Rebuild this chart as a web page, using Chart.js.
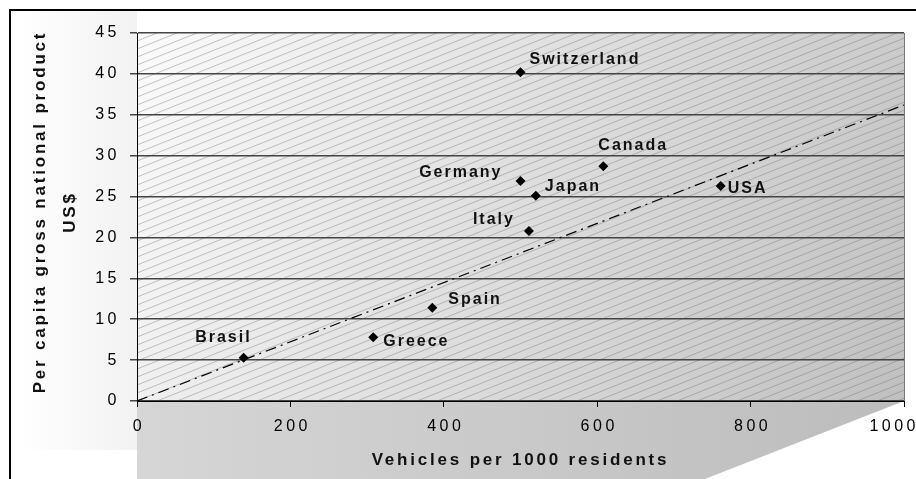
<!DOCTYPE html>
<html>
<head>
<meta charset="utf-8">
<script src="https://cdn.jsdelivr.net/npm/chart.js@4.4.1/dist/chart.umd.min.js"></script>
<style>
  body { margin: 0; background: #fff; }
  canvas { display: block; }
</style>
</head>
<body>
<canvas id="chart" width="916" height="479"></canvas>
<script>
// ==================== DATA ====================
const countries = ['Switzerland', 'Canada', 'Germany', 'Japan', 'Italy', 'USA', 'Spain', 'Greece', 'Brasil'];
const vehicles  = [500, 608, 500, 520, 511, 761, 385, 308, 139];
const gnp       = [40.2, 28.7, 26.9, 25.1, 20.8, 26.3, 11.4, 7.8, 5.3];
const trendX    = [0, 1000];
const trendY    = [0, 36.2];
const xTicks    = [0, 200, 400, 600, 800, 1000];
const yTicks    = [0, 5, 10, 15, 20, 25, 30, 35, 40, 45];

// label placement next to each point: [align, dx, dy] in px
const labelPos = [
    ['left', 9, -13], ['left', -5, -21], ['right', -18, -8], ['left', 9, -9], ['right', -14, -11],
    ['left', 7, 3], ['left', 16, -8], ['left', 10, 4], ['right', 8, -20]
];

const FONT = '"Liberation Sans", Arial, sans-serif';

// ==================== BACKGROUND / DECORATION ====================
const decoPlugin = {
    id: 'deco',
    beforeDraw(chart) {
        const ctx = chart.ctx;
        const a = chart.chartArea;
        ctx.save();
        ctx.fillStyle = '#fff';
        ctx.fillRect(0, 0, chart.width, chart.height);

        // left wall (very light)
        let g = ctx.createLinearGradient(20, 0, a.left, 0);
        g.addColorStop(0, '#ffffff');
        g.addColorStop(1, '#f2f2f2');
        ctx.fillStyle = g;
        ctx.fillRect(20, 10, a.left - 20, 440);

        // floor under the x axis
        g = ctx.createLinearGradient(a.left, 0, a.right, 0);
        g.addColorStop(0, '#d6d6d6');
        g.addColorStop(1, '#bcbcbc');
        ctx.fillStyle = g;
        ctx.beginPath();
        ctx.moveTo(a.left, a.bottom);
        ctx.lineTo(a.right, a.bottom);
        ctx.lineTo(705, chart.height);
        ctx.lineTo(a.left, chart.height);
        ctx.closePath();
        ctx.fill();

        // plot area gradient
        g = ctx.createLinearGradient(a.left, a.top, a.right, a.bottom);
        g.addColorStop(0, '#fbfbfb');
        g.addColorStop(1, '#c0c0c0');
        ctx.fillStyle = g;
        ctx.fillRect(a.left, a.top, a.right - a.left, a.bottom - a.top);

        // hatching
        ctx.beginPath();
        ctx.rect(a.left, a.top, a.right - a.left, a.bottom - a.top);
        ctx.clip();
        ctx.strokeStyle = 'rgba(110,110,110,0.5)';
        ctx.lineWidth = 0.8;
        const h = a.bottom - a.top;
        const run = h / 0.4;
        ctx.beginPath();
        for (let x = a.left - run; x < a.right + 20; x += 20) {
            ctx.moveTo(x, a.bottom);
            ctx.lineTo(x + run, a.top);
        }
        ctx.stroke();
        ctx.restore();

        // outer frame
        ctx.save();
        ctx.strokeStyle = '#000';
        ctx.lineWidth = 2;
        ctx.beginPath();
        ctx.moveTo(10, chart.height);
        ctx.lineTo(10, 10);
        ctx.lineTo(chart.width, 10);
        ctx.stroke();
        ctx.restore();

        // spaced tick labels
        ctx.letterSpacing = '3.5px';
    },
    afterDatasetsDraw(chart) {
        const ctx = chart.ctx;
        const a = chart.chartArea;
        const meta = chart.getDatasetMeta(0);
        ctx.save();
        // right edge of plot
        ctx.strokeStyle = '#777';
        ctx.lineWidth = 1;
        ctx.beginPath();
        ctx.moveTo(a.right + 0.5, a.top);
        ctx.lineTo(a.right + 0.5, a.bottom);
        ctx.stroke();

        ctx.fillStyle = '#111';
        ctx.font = 'bold 16px ' + FONT;
        ctx.letterSpacing = '2px';
        ctx.textBaseline = 'middle';
        meta.data.forEach((pt, i) => {
            const [align, dx, dy] = labelPos[i];
            ctx.textAlign = align;
            ctx.fillText(countries[i], pt.x + dx, pt.y + dy);
        });
        ctx.restore();
    },
    afterDraw(chart) {
        const ctx = chart.ctx;
        const a = chart.chartArea;
        const xs = chart.scales.x;
        ctx.save();
        // x tick labels, last one kept inside the canvas
        ctx.fillStyle = '#000';
        ctx.font = '16px ' + FONT;
        ctx.letterSpacing = '3.5px';
        ctx.textBaseline = 'middle';
        ctx.textAlign = 'center';
        xTicks.forEach(v => {
            const label = String(v);
            const w = ctx.measureText(label).width;
            let cx = xs.getPixelForValue(v) + 2;
            if (cx + w / 2 > chart.width) cx = chart.width - w / 2 + 3;
            ctx.fillText(label, cx, 427);
        });

        ctx.fillStyle = '#111';
        ctx.font = 'bold 17px ' + FONT;
        ctx.letterSpacing = '2.8px';
        ctx.fillText('Vehicles per 1000 residents', (a.left + a.right) / 2, 460);

        ctx.translate(40, 212);
        ctx.rotate(-Math.PI / 2);
        ctx.fillText('Per capita gross national product', 0, 0);
        ctx.fillText('US$', 0, 30);
        ctx.restore();
        ctx.letterSpacing = '0px';
    }
};

// ==================== CHART ====================
new Chart(document.getElementById('chart').getContext('2d'), {
    type: 'scatter',
    data: {
        datasets: [{
            label: 'Countries',
            data: vehicles.map((v, i) => ({ x: v, y: gnp[i] })),
            pointStyle: 'rectRot',
            pointRadius: 5,
            backgroundColor: '#000',
            borderColor: '#000',
            borderWidth: 0,
            showLine: false
        }, {
            label: 'Trend',
            data: trendX.map((v, i) => ({ x: v, y: trendY[i] })),
            showLine: true,
            borderColor: '#000',
            borderWidth: 1.2,
            borderDash: [11, 5, 2, 5],
            pointRadius: 0
        }]
    },
    options: {
        responsive: false,
        animation: false,
        layout: { padding: { left: 0, top: 33, right: 12, bottom: 0 } },
        plugins: { legend: { display: false }, tooltip: { enabled: false } },
        scales: {
            x: {
                type: 'linear',
                min: 0, max: 1000,
                afterBuildTicks: s => { s.ticks = xTicks.map(v => ({ value: v })); },
                afterFit: s => { s.height = 78; s.paddingLeft = 0; s.paddingRight = 0; },
                grid: { drawOnChartArea: false, color: '#000', tickLength: 6 },
                border: { color: '#000', width: 1 },
                ticks: { display: false }
            },
            y: {
                type: 'linear',
                min: 0, max: 45,
                afterBuildTicks: s => { s.ticks = yTicks.map(v => ({ value: v })); },
                afterFit: s => { s.width = 137; s.paddingTop = 0; s.paddingBottom = 0; },
                grid: { color: '#444', lineWidth: 1.5, tickLength: 7 },
                border: { color: '#000', width: 1 },
                ticks: { color: '#000', padding: 10, font: { family: FONT, size: 16 }, callback: v => String(v) }
            }
        }
    },
    plugins: [decoPlugin]
});
</script>
</body>
</html>
